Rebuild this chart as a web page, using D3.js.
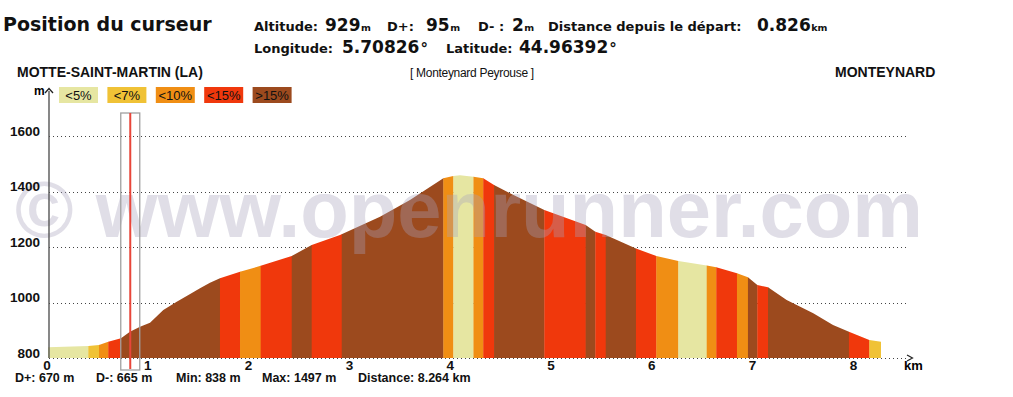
<!DOCTYPE html>
<html>
<head>
<meta charset="utf-8">
<script src="https://cdn.jsdelivr.net/npm/d3@7"></script>
<style>
  body { margin: 0; background: #fff; }
  svg { display: block; }
</style>
</head>
<body>
<div id="chart"></div>
<script>
// profile points: distance (km) / altitude (m)
const distKm = [0, 0.40, 0.506, 0.598, 0.724, 0.813, 0.913, 1.012, 1.144, 1.277, 1.376, 1.508, 1.607, 1.706,
  1.905, 2.110, 2.418, 2.616, 2.897, 3.294, 3.591, 3.922, 4.021, 4.087, 4.221, 4.318, 4.425, 4.583, 4.924,
  5.334, 5.430, 5.533, 5.833, 6.035, 6.253, 6.535, 6.630, 6.835, 6.944, 7.037, 7.143, 7.328, 7.592, 7.788,
  7.946, 8.148, 8.264]
const elevM = [839, 843, 847, 859, 871, 895, 913, 927, 973, 1003, 1023, 1051, 1071, 1087,
  1111, 1132, 1168, 1207, 1243, 1309, 1369, 1448, 1456, 1459, 1453, 1448, 1423, 1394, 1333,
  1279, 1255, 1243, 1195, 1168, 1150, 1133, 1127, 1105, 1091, 1063, 1055, 1009, 961, 919,
  895, 865, 859]

// slope classes along the track: end of each stretch (km) and class index
const segEndKm = [0.40, 0.506, 0.598, 0.724, 1.706, 1.905, 2.110, 2.418, 2.616, 2.914, 3.922, 4.021, 4.221,
  4.318, 4.425, 4.924, 5.334, 5.430, 5.533, 5.833, 6.035, 6.253, 6.535, 6.630, 6.835, 6.944, 7.037,
  7.143, 7.946, 8.148, 8.264]
const segClass = [0, 1, 2, 3, 4, 3, 2, 3, 4, 3, 4, 2, 0,
  2, 3, 4, 3, 4, 3, 4, 3, 2, 0, 2, 3, 2, 4,
  3, 4, 3, 1]

const classLabels = ['<5%', '<7%', '<10%', '<15%', '>15%']
const classColors = ['#e6e6a2', '#f0c236', '#f08e14', '#f0380c', '#9c4a1e']

const yTicks = [800, 1000, 1200, 1400, 1600]
const xTicks = [0, 1, 2, 3, 4, 5, 6, 7, 8]

const cursorKm = 0.826
const startName = 'MOTTE-SAINT-MARTIN (LA)'
const endName = 'MONTEYNARD'
const routeName = '[ Monteynard Peyrouse ]'
const statsText = ['D+: 670 m', 'D-: 665 m', 'Min: 838 m', 'Max: 1497 m', 'Distance: 8.264 km']

// cursor readout: label, value, unit
const readoutRow1 = [['Altitude:', '929', 'm'], ['D+:', '95', 'm'], ['D- :', '2', 'm'],
  ['Distance depuis le départ:', '0.826', 'km']]
const readoutRow2 = [['Longitude:', '5.70826', '°'], ['Latitude:', '44.96392', '°']]

const width = 1013, height = 397

const svg = d3.select('#chart').append('svg')
    .attr('width', width)
    .attr('height', height)

const x = d3.scaleLinear()
    .domain([0, 8.264])
    .range([48, 881])

const y = d3.scaleLinear()
    .domain([800, 1600])
    .range([358, 136])

const headFont = '"DejaVu Sans", Verdana, sans-serif'
const chartFont = '"Liberation Sans", Arial, sans-serif'

// header: cursor position
const head = svg.append('g').attr('font-family', headFont).attr('fill', '#111')

head.append('text')
    .attr('x', 3).attr('y', 31)
    .attr('font-size', 19).attr('font-weight', 'bold')
    .text('Position du curseur')

function drawReadout(row, labelX, valueX, baseline) {
    row.forEach((d, i) => {
        head.append('text')
            .attr('x', labelX[i]).attr('y', baseline)
            .attr('font-size', 13).attr('font-weight', 'bold')
            .text(d[0])
        const v = head.append('text')
            .attr('x', valueX[i]).attr('y', baseline)
            .attr('font-size', 17).attr('font-weight', 'bold')
            .text(d[1])
        const w = v.node().getComputedTextLength()
        const isDeg = d[2] === '°'
        head.append('text')
            .attr('x', valueX[i] + w + (isDeg ? 1 : 0.5))
            .attr('y', isDeg ? baseline + 1 : baseline)
            .attr('font-size', isDeg ? 15 : 9.5)
            .attr('font-weight', 'bold')
            .text(d[2])
    })
}

drawReadout(readoutRow1, [254, 387, 478, 548], [325, 426, 512, 757], 31)
drawReadout(readoutRow2, [254, 446], [342, 519], 53)

// place names
const names = svg.append('g').attr('font-family', chartFont).attr('fill', '#111')
names.append('text').attr('x', 17).attr('y', 77)
    .attr('font-size', 14).attr('font-weight', 'bold').text(startName)
names.append('text').attr('x', 410).attr('y', 77)
    .attr('font-size', 12).attr('letter-spacing', -0.3).text(routeName)
names.append('text').attr('x', 835).attr('y', 77)
    .attr('font-size', 14).attr('font-weight', 'bold').text(endName)

// dotted grid, behind the profile
svg.append('g')
    .attr('class', 'grid')
  .selectAll('line')
  .data(yTicks)
  .join('line')
    .attr('x1', x(0) + 1)
    .attr('x2', 907)
    .attr('y1', d => Math.round(y(d)) + 0.5)
    .attr('y2', d => Math.round(y(d)) + 0.5)
    .attr('stroke', '#444')
    .attr('stroke-width', 1)
    .attr('stroke-dasharray', '1,3')

// profile area used as a clip for the slope bands
const profile = distKm.map((d, i) => [d, elevM[i]])

const area = d3.area()
    .x(d => x(d[0]))
    .y0(y(800))
    .y1(d => y(d[1]))

svg.append('clipPath')
    .attr('id', 'profile-clip')
  .append('path')
    .attr('d', area(profile))

const segments = segEndKm.map((end, i) => ({
    start: i === 0 ? 0 : segEndKm[i - 1],
    end: end,
    cls: segClass[i]
}))

svg.append('g')
    .attr('clip-path', 'url(#profile-clip)')
  .selectAll('rect')
  .data(segments)
  .join('rect')
    .attr('x', d => x(d.start))
    .attr('width', d => x(d.end) - x(d.start) + 0.3)
    .attr('y', y(1600))
    .attr('height', y(800) - y(1600))
    .attr('fill', d => classColors[d.cls])

// watermark
svg.append('text')
    .attr('x', 15)
    .attr('y', 237)
    .attr('font-family', chartFont)
    .attr('font-weight', 'bold')
    .attr('font-size', 80)
    .attr('textLength', 908)
    .attr('lengthAdjust', 'spacingAndGlyphs')
    .attr('fill', '#a8a2bc')
    .attr('opacity', 0.35)
    .text('© www.openrunner.com')

// vertical axis
svg.append('line')
    .attr('x1', x(0) + 1).attr('x2', x(0) + 1)
    .attr('y1', 91).attr('y2', y(800))
    .attr('stroke', '#555')
    .attr('stroke-width', 1.4)

svg.append('path')
    .attr('d', `M${x(0) - 3},93 L${x(0) + 1},88.5 L${x(0) + 5},93`)
    .attr('fill', 'none')
    .attr('stroke', '#222')
    .attr('stroke-width', 1.3)

svg.append('text')
    .attr('x', 34).attr('y', 95)
    .attr('font-family', chartFont).attr('font-weight', 'bold').attr('font-size', 12)
    .text('m')

// x axis arrow and unit
svg.append('path')
    .attr('d', 'M907,355 L912.5,358 L907,361')
    .attr('fill', 'none')
    .attr('stroke', '#222')
    .attr('stroke-width', 1.2)

svg.append('text')
    .attr('x', 904).attr('y', 370)
    .attr('font-family', chartFont).attr('font-weight', 'bold').attr('font-size', 13)
    .text('km')

// y tick labels
svg.append('g')
    .attr('font-family', chartFont)
    .attr('font-weight', 'bold')
    .attr('font-size', 13.5)
    .attr('text-anchor', 'end')
    .attr('fill', '#111')
  .selectAll('text')
  .data(yTicks)
  .join('text')
    .attr('x', 40)
    .attr('y', d => y(d) - 0.5)
    .text(d => d)

// x tick labels
svg.append('g')
    .attr('font-family', chartFont)
    .attr('font-weight', 'bold')
    .attr('font-size', 13.5)
    .attr('text-anchor', 'middle')
    .attr('fill', '#111')
  .selectAll('text')
  .data(xTicks)
  .join('text')
    .attr('x', d => x(d) - 1)
    .attr('y', 370)
    .text(d => d)

// legend
const legend = svg.append('g')
    .attr('class', 'legend')
    .attr('font-family', chartFont)
    .attr('font-size', 13)

const legendItem = legend.selectAll('g')
  .data(classLabels)
  .join('g')
    .attr('transform', (d, i) => `translate(${59 + i * 48.4},87)`)

legendItem.append('rect')
    .attr('width', 39)
    .attr('height', 16)
    .attr('fill', (d, i) => classColors[i])

legendItem.append('text')
    .attr('x', 19.5)
    .attr('y', 12.5)
    .attr('text-anchor', 'middle')
    .attr('fill', '#111')
    .text(d => d)

// cursor
const cx = x(cursorKm) - 1
svg.append('rect')
    .attr('x', cx - 9.5)
    .attr('y', 113)
    .attr('width', 19)
    .attr('height', 257)
    .attr('fill', 'none')
    .attr('stroke', '#a0a0a0')
    .attr('stroke-width', 1.3)

svg.append('line')
    .attr('x1', cx).attr('x2', cx)
    .attr('y1', 113).attr('y2', 369)
    .attr('stroke', '#e8463a')
    .attr('stroke-width', 2)

// summary line
const statsX = [15, 96, 176, 262, 358]
svg.append('g')
    .attr('font-family', chartFont)
    .attr('font-weight', 'bold')
    .attr('font-size', 12.5)
    .attr('fill', '#111')
  .selectAll('text')
  .data(statsText)
  .join('text')
    .attr('x', (d, i) => statsX[i])
    .attr('y', 382)
    .text(d => d)
</script>
</body>
</html>
